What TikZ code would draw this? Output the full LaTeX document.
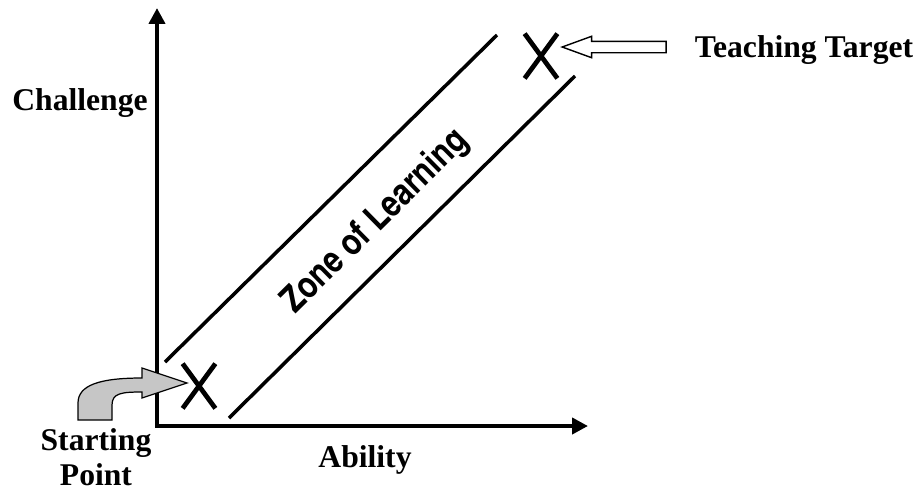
\documentclass[tikz,border=0pt]{standalone}
\usepackage{fontspec}
\setmainfont{Liberation Serif}
\newfontfamily\zonefont{texgyreheroscn-bold.otf}
\usetikzlibrary{positioning, arrows.meta, shapes.misc, shapes.arrows}

\begin{document}
\begin{tikzpicture}[
        x=0.02cm, y=-0.02cm,
        axis/.style={line width=2.3pt, {Triangle[width=9pt, length=9pt]}-{Triangle[width=9pt, length=9pt]}},
        bound/.style={line width=2pt},
        xmark/.style={cross out, draw, line width=2.7pt, minimum width=0.56cm, minimum height=0.8cm, inner sep=0pt},
        lbl/.style={font=\fontsize{18}{20}\selectfont\bfseries, align=center}
    ]
        \useasboundingbox (0,0) rectangle (922,491);

        % Axes
        \coordinate (O) at (157,426);
        \coordinate (ytip) at (157,8);
        \coordinate (xtip) at (588,426);
        \draw[axis] (ytip) -- (O) -- (xtip);

        % Zone boundaries
        \coordinate (up1) at (165,362);
        \coordinate (up2) at (497,35);
        \coordinate (lo1) at (229,418);
        \coordinate (lo2) at (575,76);
        \draw[bound] (up1) -- (up2);
        \draw[bound] (lo1) -- (lo2);
        \node[rotate=44.6, font=\zonefont\fontsize{21}{25}\selectfont] (zone) at (376,222) {Zone of Learning};

        % Marks
        \node[xmark] (start) at (199,386) {};
        \node[xmark] (target) at (541,56) {};

        % Labels
        \node[lbl] (chal) at (80,103) {Challenge};
        \node[lbl] (abil) at (365,460) {Ability};
        \node[lbl] (sp) at (96,457) {Starting\\Point};
        \node[lbl] (tt) at (804,50) {Teaching Target};

        % Pointer to the target
        \node[single arrow, draw, line width=0.8pt, shape border rotate=180, minimum height=2.08cm,
              inner sep=0.1cm, single arrow head extend=0.1cm, single arrow tip angle=40] (ttarrow) at (622,47) {};

        % Pointer to the start
        \draw[line width=0.7pt, fill=gray!45] (78,420) -- (78,403) .. controls (78,385) and (100,378) .. (142,378)
            -- (142,368) -- (187,383) -- (142,398) -- (142,392) .. controls (122,392) and (112,393) .. (112,405)
            -- (112,420) -- cycle;
    \end{tikzpicture}
\end{document}
